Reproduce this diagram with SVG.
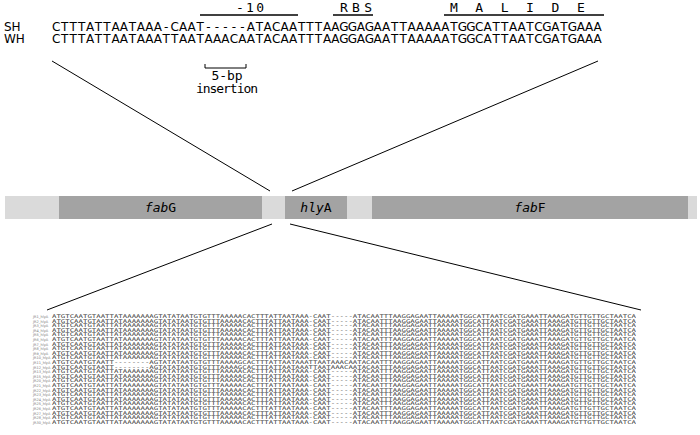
<svg xmlns="http://www.w3.org/2000/svg" width="700" height="435" viewBox="0 0 700 435">
<style>
.seq{font-family:"DejaVu Sans","Verdana",sans-serif;font-size:12px;fill:#000;text-anchor:middle}
.lab{font-family:"DejaVu Sans",sans-serif;font-size:12px;fill:#000}
.mono{font-family:"DejaVu Sans Mono","Liberation Mono",monospace;font-size:13px;fill:#000;text-anchor:middle}
.bar{stroke:#000;stroke-width:1.6;fill:none}
.conn{stroke:#000;stroke-width:1;fill:none}
.light{fill:#dadada}
.dark{fill:#a3a3a3}
.gl{font-family:"DejaVu Sans Mono",monospace;font-size:13px;fill:#000;text-anchor:middle}
.al{font-family:"DejaVu Sans Mono",monospace;font-size:5px;fill:#404040}
.an{font-family:"DejaVu Sans",sans-serif;font-size:3.5px;fill:#777}
</style>
<g id="sequence-comparison">
<text class="mono" x="250" y="12" textLength="28" lengthAdjust="spacing">-10</text>
<line class="bar" x1="200" y1="15" x2="298" y2="15"/>
<text class="mono" x="356" y="12" textLength="32" lengthAdjust="spacing">RBS</text>
<line class="bar" x1="333" y1="15" x2="373" y2="15"/>
<text class="mono" y="12"><tspan x="453.9">M</tspan><tspan x="479.2">A</tspan><tspan x="504.6">L</tspan><tspan x="530">I</tspan><tspan x="555.4">D</tspan><tspan x="580.8">E</tspan></text>
<line class="bar" x1="444" y1="15" x2="604" y2="15"/>
<text class="lab" x="4" y="30.5">SH</text>
<text class="lab" x="4" y="42.5">WH</text>
<text class="seq" y="30.5" x="56.2 64.7 73.2 81.6 90.1 98.5 107 115.5 123.9 132.4 140.8 149.3 157.8 166.2 174.7 183.1 191.6 200.1 208.5 217 225.4 233.9 242.4 250.8 259.3 267.7 276.2 284.7 293.1 301.6 310 318.5 327 335.4 343.9 352.3 360.8 369.3 377.7 386.2 394.6 403.1 411.6 420 428.5 436.9 445.4 453.9 462.3 470.8 479.2 487.7 496.2 504.6 513.1 521.5 530 538.5 546.9 555.4 563.8 572.3 580.8 589.2 597.7">CTTTATTAATAAA-CAAT-----ATACAATTTAAGGAGAATTAAAAATGGCATTAATCGATGAAA</text>
<text class="seq" y="42.5" x="56.2 64.7 73.2 81.6 90.1 98.5 107 115.5 123.9 132.4 140.8 149.3 157.8 166.2 174.7 183.1 191.6 200.1 208.5 217 225.4 233.9 242.4 250.8 259.3 267.7 276.2 284.7 293.1 301.6 310 318.5 327 335.4 343.9 352.3 360.8 369.3 377.7 386.2 394.6 403.1 411.6 420 428.5 436.9 445.4 453.9 462.3 470.8 479.2 487.7 496.2 504.6 513.1 521.5 530 538.5 546.9 555.4 563.8 572.3 580.8 589.2 597.7">CTTTATTAATAAATTAATAAACAATACAATTTAAGGAGAATTAAAAATGGCATTAATCGATGAAA</text>
<path class="conn" d="M205,64 V68 H246 V64"/>
<text class="mono" x="227" y="80" font-size="12" textLength="31" lengthAdjust="spacing">5-bp</text>
<text class="mono" x="227" y="93" font-size="12" textLength="62" lengthAdjust="spacing">insertion</text>
</g>
<g id="gene-bar">
<rect class="light" x="5" y="196" width="692" height="23"/>
</g>
<g id="fabG">
<rect class="dark" x="59" y="196" width="203" height="23"/>
<text class="gl" x="160.5" y="212"><tspan font-style="italic">fab</tspan>G</text>
</g>
<g id="hlyA">
<rect class="dark" x="285" y="196" width="62" height="23"/>
<text class="gl" x="316" y="212"><tspan font-style="italic">hly</tspan>A</text>
</g>
<g id="fabF">
<rect class="dark" x="372" y="196" width="316" height="23"/>
<text class="gl" x="530" y="212"><tspan font-style="italic">fab</tspan>F</text>
</g>
<g id="connectors">
<line class="conn" x1="52" y1="61" x2="270" y2="191"/>
<line class="conn" x1="598" y1="61" x2="292" y2="191"/>
<line class="conn" x1="272" y1="224" x2="47" y2="310"/>
<line class="conn" x1="290" y1="224" x2="641" y2="310"/>
</g>
<g id="alignment" opacity="0.99">
<g class="an">
<text x="33" y="318">JR1_hlyA</text>
<text x="33" y="322.6">JR2_hlyA</text>
<text x="33" y="327.2">JR3_hlyA</text>
<text x="33" y="331.8">JR4_hlyA</text>
<text x="33" y="336.4">JR5_hlyA</text>
<text x="33" y="341">JR6_hlyA</text>
<text x="33" y="345.6">JR7_hlyA</text>
<text x="33" y="350.2">JR8_hlyA</text>
<text x="33" y="354.8">JR9_hlyA</text>
<text x="33" y="359.4">JR10_hlyA</text>
<text x="33" y="364">JR11_hlyA</text>
<text x="33" y="368.6">JR12_hlyA</text>
<text x="33" y="373.2">JR13_hlyA</text>
<text x="33" y="377.8">JR15_hlyA</text>
<text x="33" y="382.4">JR20_hlyA</text>
<text x="33" y="387">JR21_hlyA</text>
<text x="33" y="391.6">JR22_hlyA</text>
<text x="33" y="396.2">JR23_hlyA</text>
<text x="33" y="400.8">JR24_hlyA</text>
<text x="33" y="405.4">JR25_hlyA</text>
<text x="33" y="410">JR26_hlyA</text>
<text x="33" y="414.6">JR27_hlyA</text>
<text x="33" y="419.2">JR28_hlyA</text>
<text x="33" y="423.8">JR30_hlyA</text>
</g>
<g class="al">
<text x="52" y="318" textLength="584" lengthAdjust="spacingAndGlyphs">ATGTCAATGTAATTATAAAAAAAGTATATAATGTGTTTAAAAACACTTTATTAATAAA-CAAT-----ATACAATTTAAGGAGAATTAAAAATGGCATTAATCGATGAAATTAAAGATGTTGTTGCTAATCA</text>
<text x="52" y="322.6" textLength="584" lengthAdjust="spacingAndGlyphs">ATGTCAATGTAATTATAAAAAAAGTATATAATGTGTTTAAAAACACTTTATTAATAAA-CAAT-----ATACAATTTAAGGAGAATTAAAAATGGCATTAATCGATGAAATTAAAGATGTTGTTGCTAATCA</text>
<text x="52" y="327.2" textLength="584" lengthAdjust="spacingAndGlyphs">ATGTCAATGTAATTATAAAAAAAGTATATAATGTGTTTAAAAACACTTTATTAATAAA-CAAT-----ATACAATTTAAGGAGAATTAAAAATGGCATTAATCGATGAAATTAAAGATGTTGTTGCTAATCA</text>
<text x="52" y="331.8" textLength="584" lengthAdjust="spacingAndGlyphs">ATGTCAATGTAATTATAAAAAAAGTATATAATGTGTTTAAAAACACTTTATTAATAAA-CAAT-----ATACAATTTAAGGAGAATTAAAAATGGCATTAATCGATGAAATTAAAGATGTTGTTGCTAATCA</text>
<text x="52" y="336.4" textLength="584" lengthAdjust="spacingAndGlyphs">ATGTCAATGTAATTATAAAAAAAGTATATAATGTGTTTAAAAACACTTTATTAATAAA-CAAT-----ATACAATTTAAGGAGAATTAAAAATGGCATTAATCGATGAAATTAAAGATGTTGTTGCTAATCA</text>
<text x="52" y="341" textLength="584" lengthAdjust="spacingAndGlyphs">ATGTCAATGTAATTATAAAAAAAGTATATAATGTGTTTAAAAACACTTTATTAATAAA-CAAT-----ATACAATTTAAGGAGAATTAAAAATGGCATTAATCGATGAAATTAAAGATGTTGTTGCTAATCA</text>
<text x="52" y="345.6" textLength="584" lengthAdjust="spacingAndGlyphs">ATGTCAATGTAATTATAAAAAAAGTATATAATGTGTTTAAAAACACTTTATTAATAAA-CAAT-----ATACAATTTAAGGAGAATTAAAAATGGCATTAATCGATGAAATTAAAGATGTTGTTGCTAATCA</text>
<text x="52" y="350.2" textLength="584" lengthAdjust="spacingAndGlyphs">ATGTCAATGTAATTATAAAAAAAGTATATAATGTGTTTAAAAACACTTTATTAATAAA-CAAT-----ATACAATTTAAGGAGAATTAAAAATGGCATTAATCGATGAAATTAAAGATGTTGTTGCTAATCA</text>
<text x="52" y="354.8" textLength="584" lengthAdjust="spacingAndGlyphs">ATGTCAATGTAATTATAAAAAAAGTATATAATGTGTTTAAAAACACTTTATTAATAAA-CAAT-----ATACAATTTAAGGAGAATTAAAAATGGCATTAATCGATGAAATTAAAGATGTTGTTGCTAATCA</text>
<text x="52" y="359.4" textLength="584" lengthAdjust="spacingAndGlyphs">ATGTCAATGTAATTATAAAAAAAGTATATAATGTGTTTAAAAACACTTTATTAATAAA-CAAT-----ATACAATTTAAGGAGAATTAAAAATGGCATTAATCGATGAAATTAAAGATGTTGTTGCTAATCA</text>
<text x="52" y="364" textLength="584" lengthAdjust="spacingAndGlyphs">ATGTCAATGTAATT--------AGTATATAATGTGTTTAAAAGCACTTTATTAATAAATTAATAAACAATACAATTTAAGGAGAATTAAAAATGGCATTAATCGATGAAATTAAAGATGTTGTTGCTAATCA</text>
<text x="52" y="368.6" textLength="584" lengthAdjust="spacingAndGlyphs">ATGTCAATGTAATT--------AGTATATAATGTGTTTAAAAGCACTTTATTAATAAATTAATAAACAATACAATTTAAGGAGAATTAAAAATGGCATTAATCGATGAAATTAAAGATGTTGTTGCTAATCA</text>
<text x="52" y="373.2" textLength="584" lengthAdjust="spacingAndGlyphs">ATGTCAATGTAATTATAAAAAAAGTATATAATGTGTTTAAAAACACTTTATTAATAAA-CAAT-----ATACAATTTAAGGAGAATTAAAAATGGCATTAATCGATGAAATTAAAGATGTTGTTGCTAATCA</text>
<text x="52" y="377.8" textLength="584" lengthAdjust="spacingAndGlyphs">ATGTCAATGTAATTATAAAAAAAGTATATAATGTGTTTAAAAACACTTTATTAATAAA-CAAT-----ATACAATTTAAGGAGAATTAAAAATGGCATTAATCGATGAAATTAAAGATGTTGTTGCTAATCA</text>
<text x="52" y="382.4" textLength="584" lengthAdjust="spacingAndGlyphs">ATGTCAATGTAATTATAAAAAAAGTATATAATGTGTTTAAAAACACTTTATTAATAAA-CAAT-----ATACAATTTAAGGAGAATTAAAAATGGCATTAATCGATGAAATTAAAGATGTTGTTGCTAATCA</text>
<text x="52" y="387" textLength="584" lengthAdjust="spacingAndGlyphs">ATGTCAATGTAATTATAAAAAAAGTATATAATGTGTTTAAAAACACTTTATTAATAAA-CAAT-----ATACAATTTAAGGAGAATTAAAAATGGCATTAATCGATGAAATTAAAGATGTTGTTGCTAATCA</text>
<text x="52" y="391.6" textLength="584" lengthAdjust="spacingAndGlyphs">ATGTCAATGTAATTATAAAAAAAGTATATAATGTGTTTAAAAACACTTTATTAATAAA-CAAT-----ATACAATTTAAGGAGAATTAAAAATGGCATTAATCGATGAAATTAAAGATGTTGTTGCTAATCA</text>
<text x="52" y="396.2" textLength="584" lengthAdjust="spacingAndGlyphs">ATGTCAATGTAATTATAAAAAAAGTATATAATGTGTTTAAAAACACTTTATTAATAAA-CAAT-----ATACAATTTAAGGAGAATTAAAAATGGCATTAATCGATGAAATTAAAGATGTTGTTGCTAATCA</text>
<text x="52" y="400.8" textLength="584" lengthAdjust="spacingAndGlyphs">ATGTCAATGTAATTATAAAAAAAGTATATAATGTGTTTAAAAACACTTTATTAATAAA-CAAT-----ATACAATTTAAGGAGAATTAAAAATGGCATTAATCGATGAAATTAAAGATGTTGTTGCTAATCA</text>
<text x="52" y="405.4" textLength="584" lengthAdjust="spacingAndGlyphs">ATGTCAATGTAATTATAAAAAAAGTATATAATGTGTTTAAAAACACTTTATTAATAAA-CAAT-----ATACAATTTAAGGAGAATTAAAAATGGCATTAATCGATGAAATTAAAGATGTTGTTGCTAATCA</text>
<text x="52" y="410" textLength="584" lengthAdjust="spacingAndGlyphs">ATGTCAATGTAATTATAAAAAAAGTATATAATGTGTTTAAAAACACTTTATTAATAAA-CAAT-----ATACAATTTAAGGAGAATTAAAAATGGCATTAATCGATGAAATTAAAGATGTTGTTGCTAATCA</text>
<text x="52" y="414.6" textLength="584" lengthAdjust="spacingAndGlyphs">ATGTCAATGTAATTATAAAAAAAGTATATAATGTGTTTAAAAACACTTTATTAATAAA-CAAT-----ATACAATTTAAGGAGAATTAAAAATGGCATTAATCGATGAAATTAAAGATGTTGTTGCTAATCA</text>
<text x="52" y="419.2" textLength="584" lengthAdjust="spacingAndGlyphs">ATGTCAATGTAATTATAAAAAAAGTATATAATGTGTTTAAAAACACTTTATTAATAAA-CAAT-----ATACAATTTAAGGAGAATTAAAAATGGCATTAATCGATGAAATTAAAGATGTTGTTGCTAATCA</text>
<text x="52" y="423.8" textLength="584" lengthAdjust="spacingAndGlyphs">ATGTCAATGTAATTATAAAAAAAGTATATAATGTGTTTAAAAACACTTTATTAATAAA-CAAT-----ATACAATTTAAGGAGAATTAAAAATGGCATTAATCGATGAAATTAAAGATGTTGTTGCTAATCA</text>
</g>
</g>
</svg>
